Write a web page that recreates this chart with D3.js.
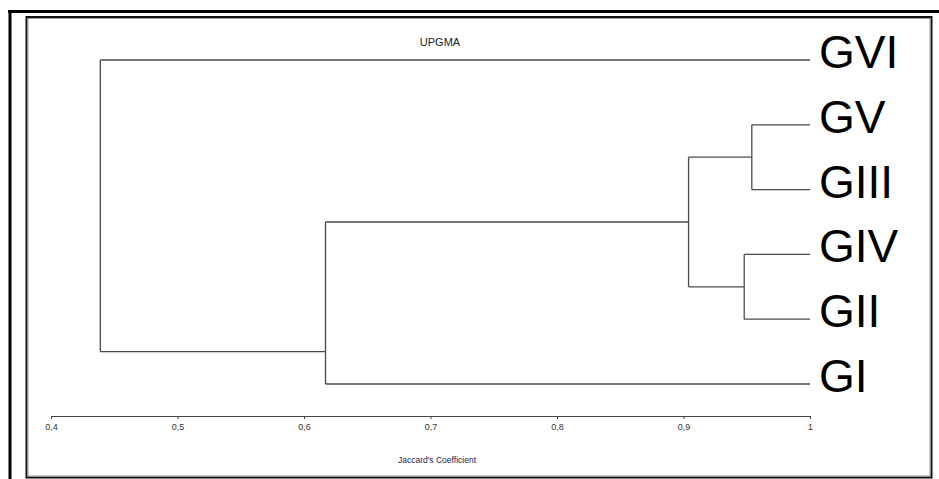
<!DOCTYPE html>
<html>
<head>
<meta charset="utf-8">
<script src="https://cdn.jsdelivr.net/npm/d3@7"></script>
<style>
  html, body { margin: 0; padding: 0; background: #fff; }
  svg { display: block; }
</style>
</head>
<body>
<svg id="chart" width="939" height="479"></svg>
<script>
// ---- data ----
const leaves = ["GVI", "GV", "GIII", "GIV", "GII", "GI"];
// internal nodes: children (leaf names or node ids), joining coefficient
const nodeIds      = ["n1", "n2", "n3", "n4", "root"];
const nodeChildren = [["GV", "GIII"], ["GIV", "GII"], ["n1", "n2"], ["n3", "GI"], ["GVI", "n4"]];
const nodeHeights  = [0.954, 0.948, 0.904, 0.617, 0.439];
// position (in leaf-order units) where each node's stem attaches, as drawn in the source
const nodeAttach   = [1.5, 3.5, 2.5, 4.5, 0];
const tickValues   = [0.4, 0.5, 0.6, 0.7, 0.8, 0.9, 1];
const title = "UPGMA";
const axisTitle = "Jaccard's Coefficient";

// ---- layout ----
const svg = d3.select("#chart");
const x = d3.scaleLinear().domain([0.4, 1]).range([51, 810]);
const yIdx = d3.scaleLinear().domain([0, leaves.length - 1]).range([60, 384]);

// frames
svg.append("line").attr("x1", 8).attr("x2", 939).attr("y1", 11.5).attr("y2", 11.5)
  .attr("stroke", "#000").attr("stroke-width", 3);
svg.append("line").attr("x1", 10).attr("x2", 10).attr("y1", 10).attr("y2", 479)
  .attr("stroke", "#000").attr("stroke-width", 3);
svg.append("rect").attr("x", 26.5).attr("y", 17).attr("width", 905).attr("height", 460.5)
  .attr("fill", "none").attr("stroke", "#111").attr("stroke-width", 2);
svg.append("rect").attr("x", 28).attr("y", 18.5).attr("width", 902).attr("height", 457.5)
  .attr("fill", "none").attr("stroke", "#999").attr("stroke-width", 1);

// node lookup
const info = {};
leaves.forEach((l, i) => { info[l] = { h: 1, at: i }; });
nodeIds.forEach((id, i) => { info[id] = { h: nodeHeights[i], at: nodeAttach[i], ch: nodeChildren[i] }; });

const g = svg.append("g").attr("fill", "none").attr("stroke", "#4a4a4a").attr("stroke-width", 1.3);
nodeIds.forEach(id => {
  const n = info[id];
  const nx = x(n.h);
  const ys = n.ch.map(c => yIdx(info[c].at));
  g.append("line").attr("x1", nx).attr("x2", nx).attr("y1", d3.min(ys)).attr("y2", d3.max(ys));
  n.ch.forEach(c => {
    g.append("line").attr("x1", nx).attr("x2", x(info[c].h))
      .attr("y1", yIdx(info[c].at)).attr("y2", yIdx(info[c].at));
  });
});

// leaf labels
svg.append("g").selectAll("text").data(leaves).join("text")
  .attr("x", 819).attr("y", (d, i) => yIdx(i) + 8)
  .attr("font-family", "Liberation Sans, Arial, sans-serif")
  .attr("font-size", 46).attr("fill", "#000")
  .text(d => d);

// axis
const axis = d3.axisBottom(x).tickValues(tickValues).tickSize(3).tickSizeOuter(0)
  .tickFormat(d => String(d).replace(".", ","));
const ag = svg.append("g").attr("transform", "translate(0,416)").call(axis);
ag.select(".domain").attr("stroke", "#444");
ag.selectAll(".tick line").attr("stroke", "#444");
ag.selectAll(".tick text").attr("font-family", "Liberation Sans, Arial, sans-serif")
  .attr("font-size", 9).attr("fill", "#333").attr("dy", "0.9em");

// titles
svg.append("text").attr("x", 440).attr("y", 46).attr("text-anchor", "middle")
  .attr("font-family", "Liberation Sans, Arial, sans-serif").attr("font-size", 11)
  .attr("fill", "#222").text(title);
svg.append("text").attr("x", 437).attr("y", 463).attr("text-anchor", "middle")
  .attr("font-family", "Liberation Sans, Arial, sans-serif").attr("font-size", 8.5)
  .attr("fill", "#1c1c50").text(axisTitle);
</script>
</body>
</html>
